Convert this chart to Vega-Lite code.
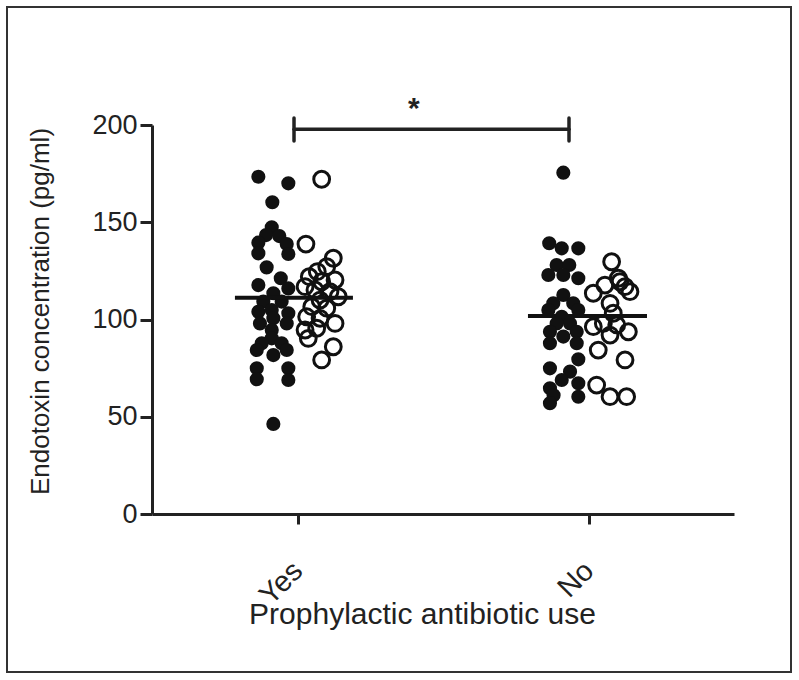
{
  "$schema": "https://vega.github.io/schema/vega-lite/v6.json",
  "autosize": "none",
  "padding": {"left": 7, "top": 7, "right": 8, "bottom": 8},
  "width": 784,
  "height": 665,
  "background": "white",
  "config": {
    "view": {"stroke": "#333333", "strokeWidth": 2},
    "font": "Liberation Sans",
    "axis": {"grid": false, "domainColor": "#222222", "tickColor": "#222222", "labelColor": "#222222", "titleColor": "#222222", "domainWidth": 3, "tickWidth": 3, "labelFont": "Liberation Sans", "titleFont": "Liberation Sans", "titleFontWeight": "normal"}
  },
  "datasets": {
    "points": [
      {"cat": "Yes", "kind": "filled", "pos": 0.731, "value": 173.4},
      {"cat": "Yes", "kind": "filled", "pos": 0.937, "value": 170.0},
      {"cat": "Yes", "kind": "filled", "pos": 0.827, "value": 160.3},
      {"cat": "Yes", "kind": "filled", "pos": 0.823, "value": 147.4},
      {"cat": "Yes", "kind": "filled", "pos": 0.784, "value": 143.4},
      {"cat": "Yes", "kind": "filled", "pos": 0.875, "value": 142.9},
      {"cat": "Yes", "kind": "filled", "pos": 0.731, "value": 139.5},
      {"cat": "Yes", "kind": "filled", "pos": 0.926, "value": 138.8},
      {"cat": "Yes", "kind": "filled", "pos": 0.731, "value": 134.0},
      {"cat": "Yes", "kind": "filled", "pos": 0.937, "value": 133.7},
      {"cat": "Yes", "kind": "filled", "pos": 0.788, "value": 126.8},
      {"cat": "Yes", "kind": "filled", "pos": 0.885, "value": 121.2},
      {"cat": "Yes", "kind": "filled", "pos": 0.731, "value": 117.7},
      {"cat": "Yes", "kind": "filled", "pos": 0.937, "value": 116.0},
      {"cat": "Yes", "kind": "filled", "pos": 0.834, "value": 113.5},
      {"cat": "Yes", "kind": "filled", "pos": 0.765, "value": 109.2},
      {"cat": "Yes", "kind": "filled", "pos": 0.891, "value": 109.2},
      {"cat": "Yes", "kind": "filled", "pos": 0.731, "value": 104.0},
      {"cat": "Yes", "kind": "filled", "pos": 0.937, "value": 103.2},
      {"cat": "Yes", "kind": "filled", "pos": 0.823, "value": 104.9},
      {"cat": "Yes", "kind": "filled", "pos": 0.742, "value": 98.0},
      {"cat": "Yes", "kind": "filled", "pos": 0.926, "value": 98.0},
      {"cat": "Yes", "kind": "filled", "pos": 0.834, "value": 100.6},
      {"cat": "Yes", "kind": "filled", "pos": 0.823, "value": 94.6},
      {"cat": "Yes", "kind": "filled", "pos": 0.823, "value": 90.3},
      {"cat": "Yes", "kind": "filled", "pos": 0.754, "value": 87.8},
      {"cat": "Yes", "kind": "filled", "pos": 0.891, "value": 87.8},
      {"cat": "Yes", "kind": "filled", "pos": 0.720, "value": 84.3},
      {"cat": "Yes", "kind": "filled", "pos": 0.926, "value": 84.3},
      {"cat": "Yes", "kind": "filled", "pos": 0.834, "value": 81.7},
      {"cat": "Yes", "kind": "filled", "pos": 0.720, "value": 74.9},
      {"cat": "Yes", "kind": "filled", "pos": 0.937, "value": 74.9},
      {"cat": "Yes", "kind": "filled", "pos": 0.720, "value": 69.3},
      {"cat": "Yes", "kind": "filled", "pos": 0.937, "value": 68.9},
      {"cat": "Yes", "kind": "filled", "pos": 0.834, "value": 46.3},
      {"cat": "Yes", "kind": "open", "pos": 1.166, "value": 172.1},
      {"cat": "Yes", "kind": "open", "pos": 1.058, "value": 138.8},
      {"cat": "Yes", "kind": "open", "pos": 1.246, "value": 131.5},
      {"cat": "Yes", "kind": "open", "pos": 1.136, "value": 124.6},
      {"cat": "Yes", "kind": "open", "pos": 1.201, "value": 127.2},
      {"cat": "Yes", "kind": "open", "pos": 1.081, "value": 122.0},
      {"cat": "Yes", "kind": "open", "pos": 1.166, "value": 119.4},
      {"cat": "Yes", "kind": "open", "pos": 1.258, "value": 120.3},
      {"cat": "Yes", "kind": "open", "pos": 1.052, "value": 116.9},
      {"cat": "Yes", "kind": "open", "pos": 1.120, "value": 115.2},
      {"cat": "Yes", "kind": "open", "pos": 1.223, "value": 114.3},
      {"cat": "Yes", "kind": "open", "pos": 1.280, "value": 111.7},
      {"cat": "Yes", "kind": "open", "pos": 1.155, "value": 110.0},
      {"cat": "Yes", "kind": "open", "pos": 1.098, "value": 106.6},
      {"cat": "Yes", "kind": "open", "pos": 1.201, "value": 105.8},
      {"cat": "Yes", "kind": "open", "pos": 1.063, "value": 101.4},
      {"cat": "Yes", "kind": "open", "pos": 1.155, "value": 100.6},
      {"cat": "Yes", "kind": "open", "pos": 1.258, "value": 98.0},
      {"cat": "Yes", "kind": "open", "pos": 1.052, "value": 94.6},
      {"cat": "Yes", "kind": "open", "pos": 1.132, "value": 95.5},
      {"cat": "Yes", "kind": "open", "pos": 1.074, "value": 90.3},
      {"cat": "Yes", "kind": "open", "pos": 1.246, "value": 86.0},
      {"cat": "Yes", "kind": "open", "pos": 1.166, "value": 79.2},
      {"cat": "No", "kind": "filled", "pos": 2.827, "value": 175.5},
      {"cat": "No", "kind": "filled", "pos": 2.730, "value": 139.2},
      {"cat": "No", "kind": "filled", "pos": 2.816, "value": 136.6},
      {"cat": "No", "kind": "filled", "pos": 2.930, "value": 136.6},
      {"cat": "No", "kind": "filled", "pos": 2.781, "value": 128.0},
      {"cat": "No", "kind": "filled", "pos": 2.868, "value": 128.0},
      {"cat": "No", "kind": "filled", "pos": 2.724, "value": 122.9},
      {"cat": "No", "kind": "filled", "pos": 2.930, "value": 121.2},
      {"cat": "No", "kind": "filled", "pos": 2.827, "value": 122.9},
      {"cat": "No", "kind": "filled", "pos": 2.827, "value": 112.6},
      {"cat": "No", "kind": "filled", "pos": 2.758, "value": 108.3},
      {"cat": "No", "kind": "filled", "pos": 2.895, "value": 108.3},
      {"cat": "No", "kind": "filled", "pos": 2.724, "value": 104.9},
      {"cat": "No", "kind": "filled", "pos": 2.930, "value": 104.9},
      {"cat": "No", "kind": "filled", "pos": 2.816, "value": 101.4},
      {"cat": "No", "kind": "filled", "pos": 2.781, "value": 98.0},
      {"cat": "No", "kind": "filled", "pos": 2.873, "value": 98.0},
      {"cat": "No", "kind": "filled", "pos": 2.735, "value": 93.7},
      {"cat": "No", "kind": "filled", "pos": 2.919, "value": 93.7},
      {"cat": "No", "kind": "filled", "pos": 2.827, "value": 91.2},
      {"cat": "No", "kind": "filled", "pos": 2.735, "value": 87.8},
      {"cat": "No", "kind": "filled", "pos": 2.919, "value": 87.8},
      {"cat": "No", "kind": "filled", "pos": 2.930, "value": 79.5},
      {"cat": "No", "kind": "filled", "pos": 2.735, "value": 74.9},
      {"cat": "No", "kind": "filled", "pos": 2.873, "value": 73.2},
      {"cat": "No", "kind": "filled", "pos": 2.816, "value": 68.9},
      {"cat": "No", "kind": "filled", "pos": 2.930, "value": 67.2},
      {"cat": "No", "kind": "filled", "pos": 2.735, "value": 64.6},
      {"cat": "No", "kind": "filled", "pos": 2.760, "value": 61.0},
      {"cat": "No", "kind": "filled", "pos": 2.930, "value": 60.3},
      {"cat": "No", "kind": "filled", "pos": 2.735, "value": 57.0},
      {"cat": "No", "kind": "open", "pos": 3.159, "value": 129.7},
      {"cat": "No", "kind": "open", "pos": 3.205, "value": 121.2},
      {"cat": "No", "kind": "open", "pos": 3.251, "value": 116.9},
      {"cat": "No", "kind": "open", "pos": 3.033, "value": 113.5},
      {"cat": "No", "kind": "open", "pos": 3.113, "value": 117.7},
      {"cat": "No", "kind": "open", "pos": 3.216, "value": 119.4},
      {"cat": "No", "kind": "open", "pos": 3.285, "value": 114.3},
      {"cat": "No", "kind": "open", "pos": 3.148, "value": 108.3},
      {"cat": "No", "kind": "open", "pos": 3.170, "value": 103.2},
      {"cat": "No", "kind": "open", "pos": 3.033, "value": 96.3},
      {"cat": "No", "kind": "open", "pos": 3.102, "value": 98.0},
      {"cat": "No", "kind": "open", "pos": 3.194, "value": 97.2},
      {"cat": "No", "kind": "open", "pos": 3.274, "value": 93.7},
      {"cat": "No", "kind": "open", "pos": 3.148, "value": 92.0},
      {"cat": "No", "kind": "open", "pos": 3.067, "value": 84.3},
      {"cat": "No", "kind": "open", "pos": 3.251, "value": 79.2},
      {"cat": "No", "kind": "open", "pos": 3.056, "value": 66.3},
      {"cat": "No", "kind": "open", "pos": 3.148, "value": 60.3},
      {"cat": "No", "kind": "open", "pos": 3.262, "value": 60.3}
    ],
    "means": [
      {"cat": "Yes", "from": 0.570, "to": 1.381, "mean": 111.2},
      {"cat": "No", "from": 2.584, "to": 3.402, "mean": 101.8}
    ],
    "bracket": [
      {"x": 0.976, "x2": 2.866, "y": 197.8, "y2": 197.8},
      {"x": 0.976, "x2": 0.976, "y": 191.8, "y2": 203.6},
      {"x": 2.866, "x2": 2.866, "y": 191.8, "y2": 203.6}
    ],
    "sig": [
      {"x": 1.80, "y": 208, "label": "*"}
    ]
  },
  "layer": [
    {
      "data": {"name": "points"},
      "transform": [{"filter": "datum.kind === 'filled'"}],
      "mark": {"type": "circle", "size": 200, "color": "#111111", "opacity": 1},
      "encoding": {
        "x": {
          "field": "pos", "type": "quantitative",
          "scale": {"domain": [0, 4], "range": [145, 727], "nice": false, "zero": false},
          "axis": {
            "values": [1, 3],
            "labelExpr": "datum.value == 1 ? 'Yes' : 'No'",
            "labelAngle": -45, "labelAlign": "right", "labelBaseline": "middle",
            "labelFontSize": 29, "labelPadding": 42, "tickSize": 10,
            "offset": -158,
            "title": "Prophylactic antibiotic use", "titleFontSize": 30,
            "titleX": 415, "titleY": 109, "titleBaseline": "alphabetic", "titleAlign": "center"
          }
        },
        "y": {
          "field": "value", "type": "quantitative",
          "scale": {"domain": [0, 200], "range": [507, 118], "nice": false},
          "axis": {
            "values": [0, 50, 100, 150, 200],
            "labelFontSize": 27, "labelPadding": 3, "tickSize": 12,
            "offset": -145,
            "title": "Endotoxin concentration (pg/ml)", "titleFontSize": 26,
            "titleAngle": -90, "titleX": -112, "titleY": 304, "titleAlign": "center", "titleBaseline": "middle"
          }
        }
      }
    },
    {
      "data": {"name": "points"},
      "transform": [{"filter": "datum.kind === 'open'"}],
      "mark": {"type": "point", "shape": "circle", "filled": false, "size": 250, "strokeWidth": 3, "color": "#111111", "opacity": 1},
      "encoding": {
        "x": {"field": "pos", "type": "quantitative"},
        "y": {"field": "value", "type": "quantitative"}
      }
    },
    {
      "data": {"name": "means"},
      "mark": {"type": "rule", "strokeWidth": 4, "color": "#111111"},
      "encoding": {
        "x": {"field": "from", "type": "quantitative"},
        "x2": {"field": "to"},
        "y": {"field": "mean", "type": "quantitative"}
      }
    },
    {
      "data": {"name": "bracket"},
      "mark": {"type": "rule", "strokeWidth": 3.5, "color": "#222222", "strokeCap": "round"},
      "encoding": {
        "x": {"field": "x", "type": "quantitative"},
        "x2": {"field": "x2"},
        "y": {"field": "y", "type": "quantitative"},
        "y2": {"field": "y2"}
      }
    },
    {
      "data": {"name": "sig"},
      "mark": {"type": "text", "fontSize": 30, "fontWeight": "bold", "color": "#222222", "baseline": "middle", "align": "center"},
      "encoding": {
        "x": {"field": "x", "type": "quantitative"},
        "y": {"field": "y", "type": "quantitative"},
        "text": {"field": "label"}
      }
    }
  ]
}
